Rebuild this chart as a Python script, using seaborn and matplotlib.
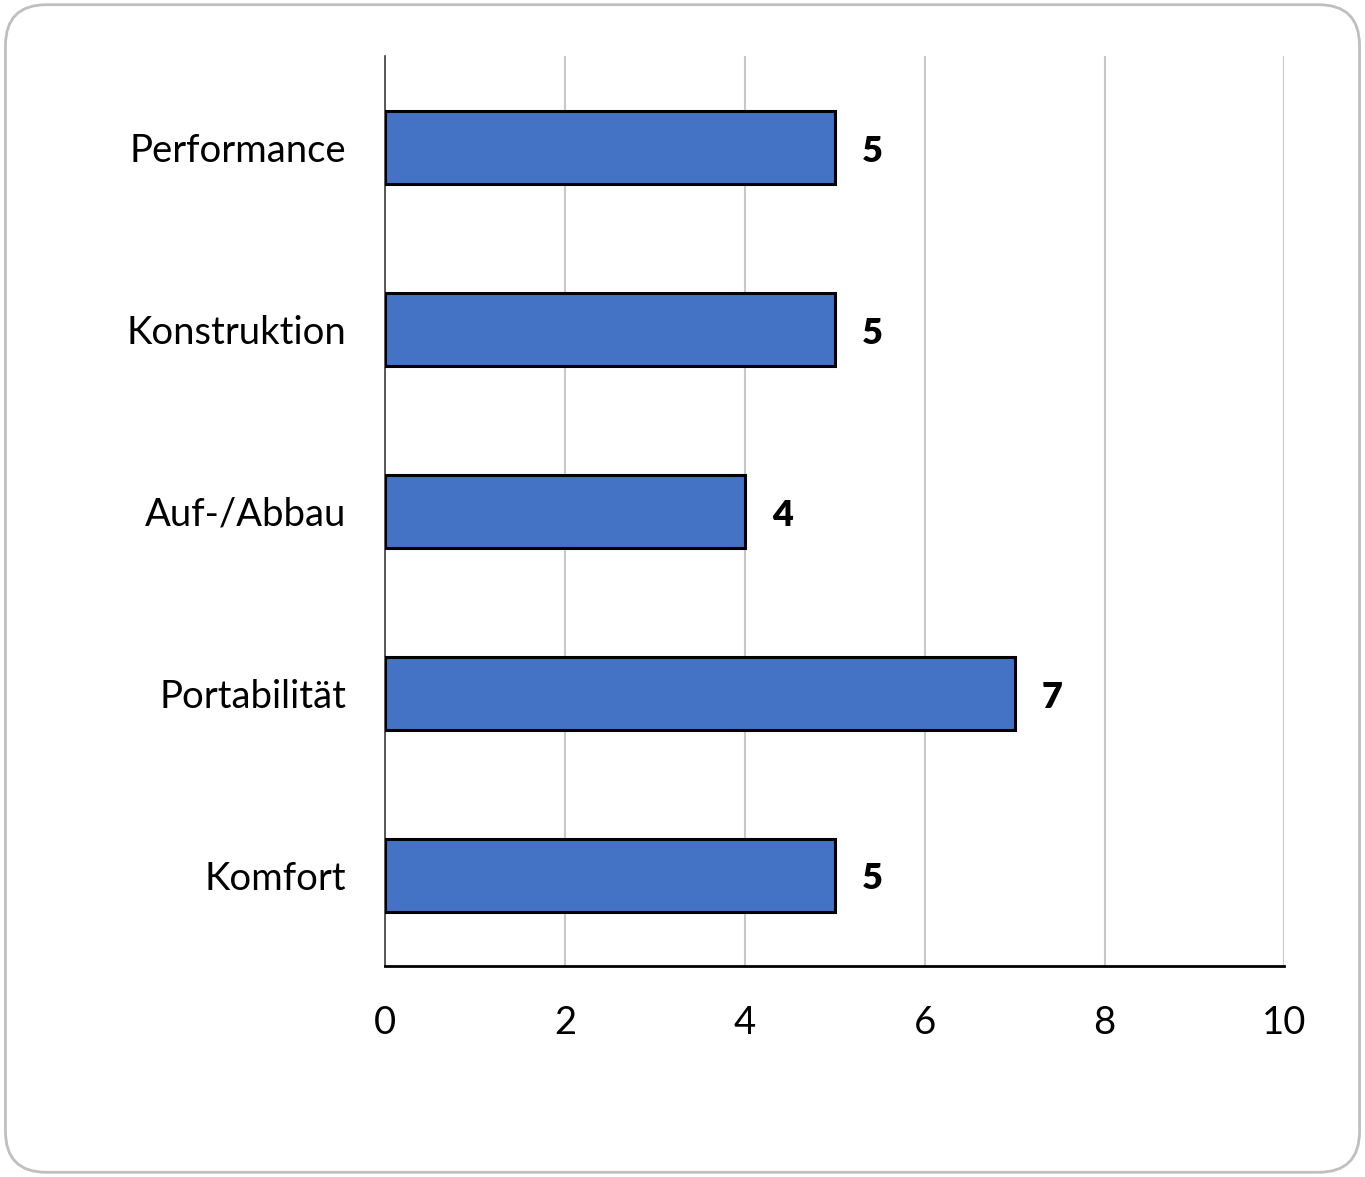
import matplotlib
matplotlib.use('Agg')
import matplotlib.pyplot as plt
import seaborn as sns
import pandas as pd
from matplotlib.patches import FancyBboxPatch

# Werte aus dem Diagramm
kategorien = ['Performance', 'Konstruktion', 'Auf-/Abbau', 'Portabilität', 'Komfort']
werte = [5, 5, 4, 7, 5]
x_ticks = [0, 2, 4, 6, 8, 10]

df = pd.DataFrame({'kategorie': kategorien, 'wert': werte})

sns.set_style('white')
plt.rcParams['font.family'] = ['Lato', 'DejaVu Sans']
plt.rcParams['text.color'] = 'black'
plt.rcParams['xtick.color'] = 'black'
plt.rcParams['ytick.color'] = 'black'

fig = plt.figure(figsize=(13.65, 11.77), dpi=100)

# abgerundeter Rahmen um die ganze Grafik
rahmen = FancyBboxPatch((0.004, 0.004), 0.992, 0.992,
                        boxstyle='round,pad=0,rounding_size=0.03',
                        transform=fig.transFigure, facecolor='white',
                        edgecolor='#BFBFBF', linewidth=2,
                        mutation_aspect=1365 / 1177, zorder=-1)
fig.patches.append(rahmen)

ax = fig.add_axes([0.282, 0.179, 0.659, 0.773])
ax.set_facecolor('none')

sns.barplot(data=df, x='wert', y='kategorie', orient='h', ax=ax,
            color='#4472C4', saturation=1, width=0.4,
            edgecolor='black', linewidth=2.2, zorder=3)

for i, v in enumerate(werte):
    ax.text(v + 0.42, i + 0.02, str(v), ha='center', va='center',
            fontsize=26, fontweight='heavy', color='black')

ax.set_xlim(0, 10)
ax.set_ylim(4.5, -0.5)
ax.set_xticks(x_ticks)
ax.grid(axis='x', color='#C8C8C8', linewidth=1.5, zorder=0)
ax.grid(axis='y', visible=False)
ax.set_xlabel('')
ax.set_ylabel('')
ax.tick_params(axis='both', length=0, labelsize=27.5)
ax.tick_params(axis='x', pad=28)
ax.tick_params(axis='y', pad=28)

for s in ['top', 'right']:
    ax.spines[s].set_visible(False)
ax.spines['left'].set_color('#404040')
ax.spines['left'].set_linewidth(1.2)
ax.spines['bottom'].set_color('black')
ax.spines['bottom'].set_linewidth(2)

fig.savefig('out.png', dpi=100)
